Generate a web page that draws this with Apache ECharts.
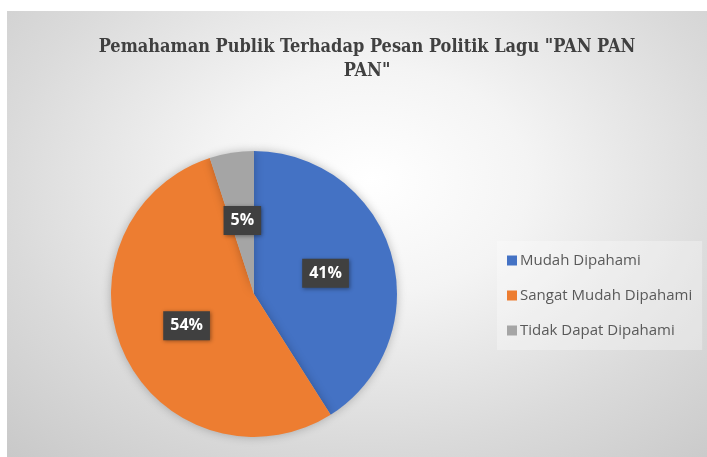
<!DOCTYPE html>
<html>
<head>
<meta charset="utf-8">
<script src="https://cdn.jsdelivr.net/npm/echarts@6/dist/echarts.min.js"></script>
<style>
  html, body { margin: 0; padding: 0; background: #fff; }
  #bg {
    position: absolute; left: 7px; top: 11px; width: 700px; height: 446px;
    background: radial-gradient(ellipse 75% 85% at 52% 38%, #ffffff 0%, #f4f4f4 30%, #dadada 70%, #c9c9c9 100%);
  }
  #main { position: absolute; left: 0; top: 0; width: 707px; height: 457px; }
</style>
</head>
<body>
<div id="bg"></div>
<div id="main"></div>
<script>
// kategori dan persentase
var kategori = ['Mudah Dipahami', 'Sangat Mudah Dipahami', 'Tidak Dapat Dipahami'];
var persen = [41, 54, 5];
var warna = ['#4472C4', '#ED7D31', '#A5A5A5'];

var judul = 'Pemahaman Publik Terhadap Pesan Politik Lagu "PAN PAN\nPAN"';

var chart = echarts.init(document.getElementById('main'));

var dataPie = [];
for (var i = 0; i < kategori.length; i++) {
    dataPie.push({ name: kategori[i], value: persen[i], itemStyle: { color: warna[i] } });
}

var option = {
    animation: false,
    title: {
        text: judul,
        left: 362,
        top: 30,
        textAlign: 'center',
        textStyle: {
            fontFamily: '"DejaVu Serif Condensed", "DejaVu Serif"',
            fontWeight: 'bold',
            fontSize: 18,
            lineHeight: 24,
            color: '#404040'
        }
    },
    legend: {
        orient: 'vertical',
        left: 497,
        top: 241,
        width: 210,
        itemWidth: 10,
        itemHeight: 10,
        itemGap: 20,
        padding: [12, 10, 12, 10],
        backgroundColor: 'rgba(255,255,255,0.3)',
        icon: 'rect',
        data: kategori,
        textStyle: {
            fontFamily: 'Open Sans',
            fontSize: 15,
            lineHeight: 14,
            color: '#595959',
            padding: [0, 0, 0, -2]
        }
    },
    series: [{
        type: 'pie',
        center: [254, 294],
        radius: ['0%', 143],
        startAngle: 90,
        clockwise: true,
        itemStyle: {
            shadowBlur: 10,
            shadowColor: 'rgba(0,0,0,0.25)'
        },
        label: {
            show: true,
            position: 'inside',
            formatter: '{c}%',
            color: '#ffffff',
            fontFamily: 'Open Sans',
            fontWeight: 'bold',
            fontSize: 16,
            backgroundColor: '#404040',
            padding: [7, 7, 6, 7],
            shadowBlur: 4,
            shadowColor: 'rgba(0,0,0,0.4)',
            shadowOffsetX: 1,
            shadowOffsetY: 1
        },
        labelLine: { show: false },
        emphasis: { disabled: true },
        data: dataPie
    }]
};

chart.setOption(option);
</script>
</body>
</html>
